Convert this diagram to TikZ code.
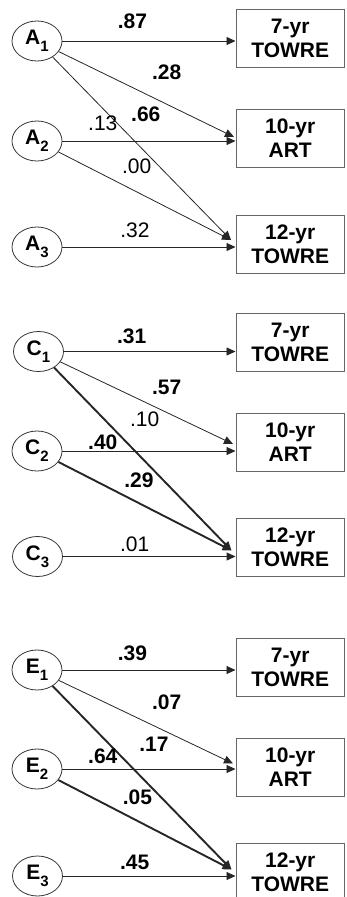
\documentclass[tikz,border=0pt]{standalone}
\usepackage{fontspec}
\setmainfont{Liberation Sans}
\usetikzlibrary{arrows.meta,shapes.geometric}
\newcommand\lsub[1]{\raisebox{-7pt}{\fontsize{15}{15}\selectfont\bfseries #1}}
\tikzset{
  lat/.style={draw=black!80, line width=0.8pt, ellipse, minimum width=50pt, minimum height=40pt, inner sep=0pt, font=\fontsize{21}{24}\selectfont\bfseries},
  obs/.style={draw=black!60, line width=1pt, rectangle, minimum width=108.5pt, minimum height=58pt, inner sep=0pt, align=center, font=\fontsize{21}{24}\selectfont\bfseries},
  arr/.style={-{Triangle[length=9pt,width=8pt]}, line width=0.8pt, draw=black!85},
  arrmid/.style={arr, line width=1.3pt},
  arrthick/.style={arr, line width=1.9pt},
  bl/.style={font=\fontsize{21}{24}\selectfont\bfseries, inner sep=0pt},
  nl/.style={font=\fontsize{21}{24}\selectfont, inner sep=0pt},
}
\begin{document}
\begin{tikzpicture}[x=1pt,y=-1pt]
\useasboundingbox (0,0) rectangle (346,897);
% ---------- A ----------
\node[lat] (A1) at (37,41) {A\lsub{1}};
\node[lat] (A2) at (37,141) {A\lsub{2}};
\node[lat] (A3) at (37,247) {A\lsub{3}};
\node[obs] (BA7) at (290.25,38) {7-yr\\TOWRE};
\node[obs] (BA10) at (290.25,138.5) {10-yr\\ART};
\node[obs] (BA12) at (290.25,244) {12-yr\\TOWRE};
\coordinate (a10d) at (234,137);
\coordinate (a12d) at (231,240);
\draw[arr] (A1) -- (A1 -| BA7.west);
\draw[arr] (A1) -- (a10d);
\draw[arr] (A1) -- (a12d);
\draw[arr] (A2) -- (A2 -| BA10.west);
\draw[arr] (A2) -- (a12d);
\draw[arr] (A3) -- (A3 -| BA12.west);
\node[bl] (la1) at (132.5,20.8) {.87};
\node[bl] (la2) at (166.7,72.5) {.28};
\node[bl] (la3) at (145.8,114) {.66};
\node[nl] (la4) at (102.8,123.7) {.13};
\node[nl] (la5) at (136.7,166.7) {.00};
\node[nl] (la6) at (135,230) {.32};
% ---------- C ----------
\node[lat] (C1) at (38.5,351.5) {C\lsub{1}};
\node[lat] (C2) at (37,451) {C\lsub{2}};
\node[lat] (C3) at (37.5,556.5) {C\lsub{3}};
\node[obs] (BC7) at (290.25,342.5) {7-yr\\TOWRE};
\node[obs] (BC10) at (290.25,442.5) {10-yr\\ART};
\node[obs] (BC12) at (290.25,547.5) {12-yr\\TOWRE};
\coordinate (c10d) at (233,444);
\coordinate (c12d) at (231.5,550.5);
\draw[arr] (C1) -- (C1 -| BC7.west);
\draw[arr] (C1) -- (c10d);
\draw[arrthick] (C1) -- (c12d);
\draw[arr] (C2) -- (C2 -| BC10.west);
\draw[arrthick] (C2) -- (c12d);
\draw[arrmid] (C3) -- (C3 -| BC12.west);
\node[bl] (lc1) at (131.7,336.3) {.31};
\node[bl] (lc2) at (166.7,387.5) {.57};
\node[nl] (lc3) at (144.7,418.8) {.10};
\node[bl] (lc4) at (102.8,442.2) {.40};
\node[bl] (lc5) at (139,480) {.29};
\node[nl] (lc6) at (134.7,544.5) {.01};
% ---------- E ----------
\node[lat] (E1) at (37,670) {E\lsub{1}};
\node[lat] (E2) at (37,769) {E\lsub{2}};
\node[lat] (E3) at (37.5,876) {E\lsub{3}};
\node[obs] (BE7) at (290.25,667.5) {7-yr\\TOWRE};
\node[obs] (BE10) at (290.25,767.5) {10-yr\\ART};
\node[obs] (BE12) at (290.25,872.5) {12-yr\\TOWRE};
\coordinate (e10d) at (233,763.5);
\coordinate (e12d) at (231.5,869.5);
\draw[arr] (E1) -- (E1 -| BE7.west);
\draw[arr] (E1) -- (e10d);
\draw[arrthick] (E1) -- (e12d);
\draw[arr] (E2) -- (E2 -| BE10.west);
\draw[arrthick] (E2) -- (e12d);
\draw[arr] (E3) -- (E3 -| BE12.west);
\node[bl] (le1) at (132.5,653.3) {.39};
\node[bl] (le2) at (166.7,702.5) {.07};
\node[bl] (le3) at (154,744) {.17};
\node[bl] (le4) at (102.8,755.8) {.64};
\node[bl] (le5) at (137.5,797.5) {.05};
\node[bl] (le6) at (134.7,862) {.45};
\end{tikzpicture}
\end{document}
